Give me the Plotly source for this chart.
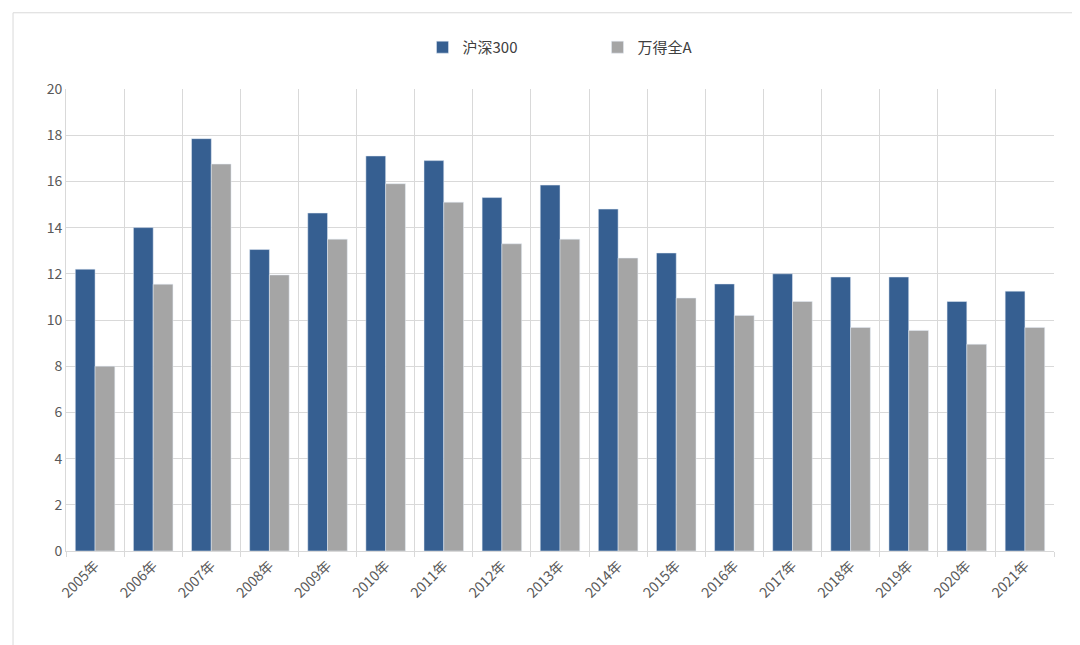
import plotly.graph_objects as go

years = [f"{y}年" for y in range(2005, 2022)]
hs300 = [12.2, 14.0, 17.85, 13.05, 14.63, 17.1, 16.9, 15.3, 15.84, 14.8, 12.9, 11.56, 12.0, 11.86, 11.86, 10.8, 11.25]
wind_a = [8.0, 11.55, 16.75, 11.95, 13.5, 15.9, 15.1, 13.3, 13.5, 12.68, 10.95, 10.2, 10.8, 9.68, 9.55, 8.95, 9.68]

fig = go.Figure()
fig.add_bar(x=years, y=hs300, name="沪深300" + "\u2003" * 5, marker_color="#365F91")
fig.add_bar(x=years, y=wind_a, name="万得全A", marker_color="#A5A5A5")

font = "Noto Sans CJK SC"
fig.update_layout(
    width=1080, height=645,
    paper_bgcolor="white", plot_bgcolor="white",
    barmode="group", bargap=0.32, bargroupgap=0,
    margin=dict(l=58, r=34, t=81, b=102),
    font=dict(family=font, size=14, color="#595959"),
    legend=dict(orientation="h", x=0.5, xanchor="center", y=1.09, yanchor="middle",
                bgcolor="rgba(0,0,0,0)", font=dict(size=15, color="#404040"), traceorder="normal"),
    xaxis=dict(tickangle=-45, showgrid=True, gridcolor="#D9D9D9", tickson="boundaries",
               showline=True, linecolor="#D9D9D9", ticks="outside", tickcolor="#D9D9D9", ticklen=5,
               tickfont=dict(size=14), automargin=False),
    yaxis=dict(range=[0, 20], dtick=2, showgrid=True, gridcolor="#D9D9D9",
               showline=True, linecolor="#D9D9D9", zeroline=False, tickfont=dict(size=14),
               automargin=False),
    shapes=[dict(type="rect", xref="paper", yref="paper", x0=-0.0536, x1=1.027, y0=-0.206, y1=1.165,
                 line=dict(color="#D9D9D9", width=1), layer="below")],
)
fig.write_html("out.html")
